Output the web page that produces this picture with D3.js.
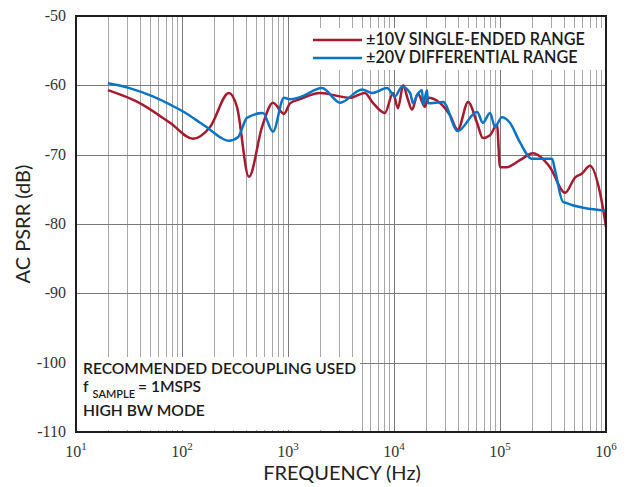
<!DOCTYPE html>
<html>
<head>
<meta charset="utf-8">
<script src="https://cdn.jsdelivr.net/npm/d3@7"></script>
<style>
  html, body { margin: 0; padding: 0; background: #fff; }
  svg { display: block; }
</style>
</head>
<body>
<svg id="chart" width="629" height="487"></svg>
<script>
// Series: AC PSRR vs frequency, two input ranges
const seFreq = [20, 38, 77, 127, 184, 277, 330, 428, 569, 721, 916, 1045, 1300, 2000, 3850, 5300, 6300, 8200, 9800, 10900, 12200, 13500, 14800, 16800, 19600, 20900, 27000, 33700, 40000, 50000, 60700, 69000, 80500, 93700, 100000, 116000, 154000, 205000, 296000, 411000, 510000, 594000, 707000, 878000, 1000000];
const seDb   = [-60.7, -62.4, -65.4, -67.7, -66.0, -61.1, -63.1, -73.2, -66.0, -62.5, -64.1, -62.6, -62.0, -61.1, -61.8, -61.1, -62.5, -64.0, -61.1, -63.3, -60.0, -62.0, -63.5, -61.2, -63.1, -61.8, -62.5, -64.3, -66.4, -62.4, -65.4, -67.6, -67.2, -65.7, -71.8, -71.8, -70.8, -69.8, -71.8, -75.5, -73.3, -72.7, -71.6, -75.5, -80.4];

const diffFreq = [20, 32, 53, 80, 111, 145, 184, 230, 277, 337, 410, 580, 721, 916, 1045, 1300, 2094, 3100, 5000, 6200, 8600, 10200, 11900, 14200, 15100, 16500, 18400, 18800, 20500, 20900, 29000, 40000, 60700, 69000, 80500, 89800, 104000, 124000, 154000, 200000, 310000, 330000, 393000, 1000000];
const diffDb   = [-59.7, -60.4, -61.6, -62.9, -64.1, -65.3, -66.4, -67.5, -68.0, -67.5, -64.7, -64.0, -66.7, -61.8, -62.0, -61.7, -60.4, -62.5, -60.6, -61.1, -60.4, -61.6, -60.2, -61.1, -62.6, -61.4, -60.7, -62.8, -60.7, -62.6, -62.4, -66.6, -63.8, -65.4, -64.0, -66.0, -64.6, -65.4, -68.2, -70.6, -70.6, -72.2, -76.8, -78.1];

const seriesNames = ["\u00B110V SINGLE-ENDED RANGE", "\u00B120V DIFFERENTIAL RANGE"];
const yTicks = [-50, -60, -70, -80, -90, -100, -110];
const xDecades = [1, 2, 3, 4, 5, 6];
const noteLines = ["RECOMMENDED DECOUPLING USED", "= 1MSPS", "HIGH BW MODE"];

const RED = "#a6192e";
const BLUE = "#0a74c4";

const svg = d3.select("#chart");
const L = 76, R = 606, T = 16, B = 432;

const x = d3.scaleLog().domain([10, 1e6]).range([L, R]);
const y = d3.scaleLinear().domain([-110, -50]).range([B, T]);

// grid: minor verticals, decade verticals, horizontal lines
const minor = [];
for (let d = 1; d < 6; d++) for (let m = 2; m <= 9; m++) minor.push(m * Math.pow(10, d));
const grid = svg.append("g");
grid.selectAll("line.minor").data(minor).join("line")
  .attr("x1", d => Math.round(x(d)) + 0.5).attr("x2", d => Math.round(x(d)) + 0.5)
  .attr("y1", T).attr("y2", B)
  .attr("stroke", "#a8a8a8").attr("stroke-width", 1);
grid.selectAll("line.major").data(xDecades.slice(1, 5).map(e => Math.pow(10, e))).join("line")
  .attr("x1", d => Math.round(x(d)) + 0.5).attr("x2", d => Math.round(x(d)) + 0.5)
  .attr("y1", T).attr("y2", B)
  .attr("stroke", "#7a7a7a").attr("stroke-width", 1);
grid.selectAll("line.h").data(yTicks.slice(1, 6)).join("line")
  .attr("x1", L).attr("x2", R)
  .attr("y1", d => Math.round(y(d)) + 0.5).attr("y2", d => Math.round(y(d)) + 0.5)
  .attr("stroke", "#7a7a7a").attr("stroke-width", 1);

// white panels behind legend and note
svg.append("rect").attr("x", 300).attr("y", 28).attr("width", 304).attr("height", 42).attr("fill", "#fff");
svg.append("rect").attr("x", L + 1).attr("y", 357).attr("width", 283).attr("height", 73).attr("fill", "#fff");

// curves
const line = d3.line().x(d => x(d[0])).y(d => y(d[1])).curve(d3.curveMonotoneX);
const seData = d3.zip(seFreq, seDb);
const diffData = d3.zip(diffFreq, diffDb);
svg.append("path").attr("d", line(seData)).attr("fill", "none")
  .attr("stroke", RED).attr("stroke-width", 2.5).attr("stroke-linejoin", "round");
svg.append("path").attr("d", line(diffData)).attr("fill", "none")
  .attr("stroke", BLUE).attr("stroke-width", 2.5).attr("stroke-linejoin", "round");

// frame
svg.append("rect").attr("x", L).attr("y", T).attr("width", R - L).attr("height", B - T)
  .attr("fill", "none").attr("stroke", "#1e1e1e").attr("stroke-width", 2);

// y tick labels
const serif = "'Liberation Serif', 'DejaVu Serif', serif";
svg.append("g").selectAll("text").data(yTicks).join("text")
  .attr("x", 66).attr("y", d => y(d) + 5)
  .attr("text-anchor", "end")
  .attr("font-family", serif).attr("font-size", 16).attr("fill", "#333")
  .text(d => d);

// x tick labels with exponent
const xt = svg.append("g").selectAll("text").data(xDecades).join("text")
  .attr("x", d => x(Math.pow(10, d)))
  .attr("y", 457)
  .attr("text-anchor", "middle")
  .attr("font-family", serif).attr("font-size", 16).attr("fill", "#333");
xt.append("tspan").text("10");
xt.append("tspan").attr("dy", -7).attr("font-size", 11).text(d => d);

// axis titles
const sans = "Lato, 'Noto Sans', sans-serif";
svg.append("text")
  .attr("transform", "translate(30,224) rotate(-90)")
  .attr("text-anchor", "middle")
  .attr("font-family", sans).attr("font-size", 20).attr("fill", "#222")
  .text("AC PSRR (dB)");
svg.append("text")
  .attr("x", 342).attr("y", 480)
  .attr("text-anchor", "middle")
  .attr("font-family", sans).attr("font-size", 20).attr("fill", "#222")
  .text("FREQUENCY (Hz)");

// legend
const lg = svg.append("g");
[RED, BLUE].forEach((c, i) => {
  const yy = 40 + i * 18;
  lg.append("line").attr("x1", 313).attr("x2", 362).attr("y1", yy).attr("y2", yy)
    .attr("stroke", c).attr("stroke-width", 2.5);
  lg.append("text").attr("x", 366).attr("y", yy + 5)
    .attr("font-family", sans).attr("font-size", 16.2).attr("font-weight", 600).attr("fill", "#1a1a1a")
    .text(seriesNames[i]);
});

// note
const nt = svg.append("g").attr("font-family", sans).attr("font-size", 15.6).attr("font-weight", 600).attr("fill", "#1a1a1a");
nt.append("text").attr("x", 83).attr("y", 374).text(noteLines[0]);
const l2 = nt.append("text").attr("x", 83).attr("y", 392);
l2.append("tspan").text("f");
l2.append("tspan").attr("dx", 4).attr("dy", 6).attr("font-size", 11).text("SAMPLE");
l2.append("tspan").attr("dx", 3).attr("dy", -6).text(noteLines[1]);
nt.append("text").attr("x", 83).attr("y", 416).text(noteLines[2]);
</script>
</body>
</html>
